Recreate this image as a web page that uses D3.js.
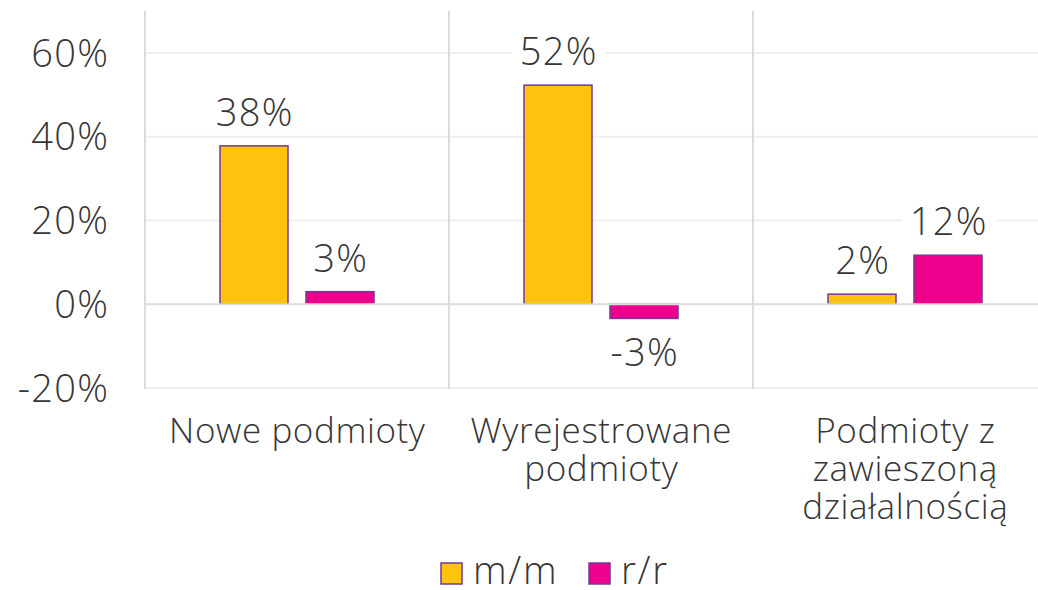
<!DOCTYPE html>
<html>
<head>
<meta charset="utf-8">
<script src="https://cdn.jsdelivr.net/npm/d3@7"></script>
<style>
  body { margin: 0; background: #fff; }
  svg text { font-family: "Open Sans", "Noto Sans", sans-serif; font-weight: 300; fill: #363636; }
</style>
</head>
<body>
<div id="chart"></div>
<script>

var categories = [
  ["Nowe podmioty"],
  ["Wyrejestrowane", "podmioty"],
  ["Podmioty z", "zawieszoną", "działalnością"]
];
var seriesNames = ["m/m", "r/r"];
var seriesColors = ["#FFC20E", "#EC008C"];
var mmValues = [0.378, 0.523, 0.024];
var rrValues = [0.030, -0.034, 0.117];
var mmLabels = ["38%", "52%", "2%"];
var rrLabels = ["3%", "-3%", "12%"];
var yTicks = [-0.2, 0, 0.2, 0.4, 0.6];

/////////////////////////////////////////////////////////////////////

var width = 1038, height = 590;
var numSize = 38, numLs = 1.3;   // tick + data label font
var catSize = 35, catLs = 0.6;

var svg = d3.select("#chart").append("svg")
  .attr("width", width)
  .attr("height", height);

var catKeys = categories.map(function(c) { return c.join(" "); });

var x = d3.scaleBand()
  .domain(catKeys)
  .range([145, 1057])
  .paddingInner(0)
  .paddingOuter(0);

var xInner = d3.scaleBand()
  .domain(seriesNames)
  .range([0, x.bandwidth()])
  .paddingInner(18/86)
  .paddingOuter(75/86);

var y = d3.scaleLinear()
  .domain([-0.2, 0.7])
  .range([388, 11]);

// horizontal gridlines
svg.selectAll("line.grid")
  .data(yTicks.filter(function(t) { return t != 0; }))
  .enter().append("line")
  .attr("class", "grid")
  .attr("x1", 145).attr("x2", width)
  .attr("y1", function(d) { return y(d); })
  .attr("y2", function(d) { return y(d); })
  .attr("stroke", "#efefef")
  .attr("stroke-width", 2);

// category separators
var seps = catKeys.map(function(k) { return x(k); });
svg.selectAll("line.sep")
  .data(seps)
  .enter().append("line")
  .attr("class", "sep")
  .attr("x1", function(d) { return d; })
  .attr("x2", function(d) { return d; })
  .attr("y1", 11).attr("y2", 389)
  .attr("stroke", "#dcdcdc")
  .attr("stroke-width", 2);

// y labels
svg.selectAll("text.ytick")
  .data(yTicks)
  .enter().append("text")
  .attr("class", "ytick")
  .attr("x", 108 + numLs)
  .attr("y", function(d) { return y(d); })
  .attr("dy", "0.36em")
  .attr("text-anchor", "end")
  .style("font-size", numSize + "px")
  .style("letter-spacing", numLs + "px")
  .text(function(d) { return Math.round(d*100) + "%"; });

// bars
var series = [mmValues, rrValues];
var labels = [mmLabels, rrLabels];

series.forEach(function(vals, si) {
  svg.selectAll("rect.bar" + si)
    .data(vals)
    .enter().append("rect")
    .attr("class", "bar" + si)
    .attr("x", function(d, i) { return x(catKeys[i]) + xInner(seriesNames[si]); })
    .attr("width", xInner.bandwidth())
    .attr("y", function(d) { return y(Math.max(0, d)); })
    .attr("height", function(d) { return Math.abs(y(d) - y(0)); })
    .attr("fill", seriesColors[si])
    .attr("stroke", "#6E3B96")
    .attr("stroke-width", 1.5);
});

// zero line
svg.append("line")
  .attr("x1", 145).attr("x2", width)
  .attr("y1", y(0)).attr("y2", y(0))
  .attr("stroke", "#dcdcdc")
  .attr("stroke-width", 2);

// data labels with white boxes
series.forEach(function(vals, si) {
  vals.forEach(function(d, i) {
    var cx = x(catKeys[i]) + xInner(seriesNames[si]) + xInner.bandwidth()/2;
    var base = d >= 0 ? y(d) - 20 : y(d) + 48;
    var g = svg.append("g");
    var t = g.append("text")
      .attr("x", cx + numLs/2)
      .attr("y", base)
      .attr("text-anchor", "middle")
      .style("font-size", numSize + "px")
      .style("letter-spacing", numLs + "px")
      .text(labels[si][i]);
    var bb = t.node().getBBox();
    g.insert("rect", "text")
      .attr("x", bb.x - 8)
      .attr("y", base - 36)
      .attr("width", bb.width + 16)
      .attr("height", 44)
      .attr("fill", "#fff");
  });
});

// category labels
categories.forEach(function(lines, i) {
  var cx = x(catKeys[i]) + x.bandwidth()/2 + catLs/2;
  var t = svg.append("text")
    .attr("text-anchor", "middle")
    .style("font-size", catSize + "px")
    .style("letter-spacing", catLs + "px");
  lines.forEach(function(ln, j) {
    t.append("tspan")
      .attr("x", cx)
      .attr("y", 443 + j*38)
      .text(ln);
  });
});

// legend
var legendX = [441, 589];
seriesNames.forEach(function(name, si) {
  svg.append("rect")
    .attr("x", legendX[si]).attr("y", 563)
    .attr("width", 21).attr("height", 21)
    .attr("fill", seriesColors[si])
    .attr("stroke", "#6E3B96")
    .attr("stroke-width", 1.5);
  svg.append("text")
    .attr("x", legendX[si] + 32)
    .attr("y", 584)
    .style("font-size", numSize + "px")
    .style("letter-spacing", "1.8px")
    .text(name);
});

</script>
</body>
</html>
